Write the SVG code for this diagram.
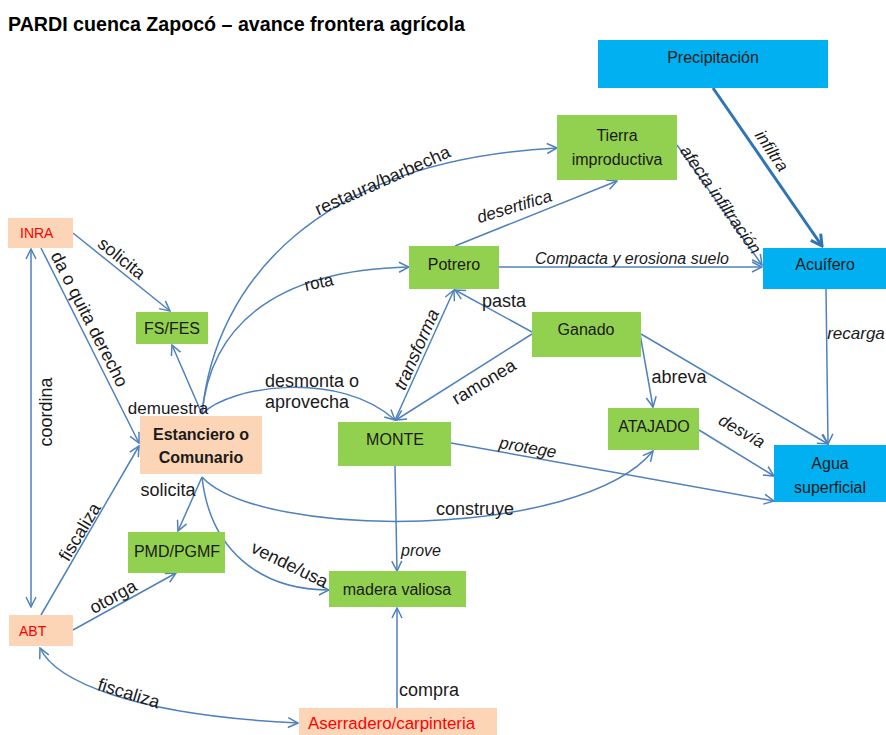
<svg xmlns="http://www.w3.org/2000/svg" width="886" height="735" viewBox="0 0 886 735">
  <defs>
    <style>
      .box-g { fill: #92D050; }
      .box-o { fill: #FBD5B5; }
      .box-b { fill: #00B0F0; }
      .nt { font-family: "Liberation Sans", Arial, sans-serif; font-size: 16px; fill: #1a1a1a; text-anchor: middle; }
      .red { fill: #FF0000; text-anchor: start; font-size: 14px; }
      .red.wide { font-size: 16.9px; }
      .bold { font-weight: bold; }
      .lb { font-family: "Liberation Sans", Arial, sans-serif; font-size: 18px; fill: #1a1a1a; text-anchor: middle; }
      .s17 { font-size: 17px; }
      .s16 { font-size: 16px; }
      .it { font-style: italic; }
      .c { fill: none; stroke: #4F81BD; stroke-width: 1.5; marker-end: url(#arr); }
      .both { marker-start: url(#arr); }
      .thick { fill: none; stroke: #2E75B6; stroke-width: 3; marker-end: url(#arrT); }
    </style>
    <marker id="arr" viewBox="0 0 12 12" refX="11" refY="6" markerWidth="12" markerHeight="12" markerUnits="userSpaceOnUse" orient="auto-start-reverse">
      <path d="M1,1 L11,6 L1,11" fill="none" stroke="#4F81BD" stroke-width="1.5"/>
    </marker>
    <marker id="arrT" viewBox="0 0 14 14" refX="12" refY="7" markerWidth="14" markerHeight="14" markerUnits="userSpaceOnUse" orient="auto">
      <path d="M1,1 L12,7 L1,13" fill="none" stroke="#2E75B6" stroke-width="3"/>
    </marker>
  </defs>

  <rect width="886" height="735" fill="#ffffff"/>

  <!-- title -->
  <text x="8" y="31" font-family="Liberation Sans, Arial, sans-serif" font-size="21" font-weight="bold" fill="#000" textLength="457" lengthAdjust="spacingAndGlyphs">PARDI cuenca Zapocó – avance frontera agrícola</text>

  <!-- connectors -->
  <g id="connectors">
    <path class="c" d="M73,233 L170,311"/>
    <path class="c" d="M41,248 L139,443"/>
    <path class="c both" d="M31,249 L31,607"/>
    <path class="c" d="M41,615 L139,446"/>
    <path class="c" d="M73,630 L176,573"/>
    <path class="c both" d="M40,648 C55,680 130,715 298,723"/>
    <path class="c" d="M397,708 L397,608"/>
    <path class="c" d="M395,466 L397,571"/>
    <path class="c" d="M202,414 L172,345"/>
    <path class="c" d="M202,414 C215,280 320,160 557,148"/>
    <path class="c" d="M202,414 C210,330 270,270 409,267"/>
    <path class="c" d="M202,414 C230,385 340,370 395,420"/>
    <path class="c" d="M202,477 L178,531"/>
    <path class="c" d="M202,477 C210,550 260,590 329,590"/>
    <path class="c" d="M202,477 C260,540 580,540 653,451"/>
    <path class="c" d="M395,420 L454,290"/>
    <path class="c" d="M532,332 L455,290"/>
    <path class="c" d="M532,334 L396,420"/>
    <path class="c" d="M640,334 L653,407"/>
    <path class="c" d="M641,334 L828,444"/>
    <path class="c" d="M699,430 L774,476"/>
    <path class="c" d="M451,443 L774,501"/>
    <path class="c" d="M826,289 L828,444"/>
    <path class="c" d="M677,145 L762,265"/>
    <path class="c" d="M499,267 L762,267"/>
    <path class="c" d="M455,246 L617,181"/>
    <path class="thick" d="M713,88 L822,246"/>

    <!-- connector labels -->
    <text class="lb" transform="translate(118,263) rotate(39)">solicita</text>
    <text class="lb" transform="translate(84,322) rotate(63)">da o quita derecho</text>
    <text class="lb" transform="translate(52,412) rotate(-90)">coordina</text>
    <text class="lb" transform="translate(85,535) rotate(-59)">fiscaliza</text>
    <text class="lb" transform="translate(116,602) rotate(-29)">otorga</text>
    <text class="lb" transform="translate(127,699) rotate(17)">fiscaliza</text>
    <text class="lb" x="429" y="696">compra</text>
    <text class="lb it s16" x="421" y="556">prove</text>
    <text class="lb" transform="translate(287,570) rotate(26)">vende/usa</text>
    <text class="lb" x="168" y="496">solicita</text>
    <text class="lb s17" x="168" y="414">demuestra</text>
    <text class="lb" transform="translate(385,186) rotate(-24)">restaura/barbecha</text>
    <text class="lb s17" transform="translate(320,288) rotate(-12)">rota</text>
    <text class="lb it s17" transform="translate(516,212) rotate(-17)">desertifica</text>
    <text class="lb" x="265" y="387" style="text-anchor:start">desmonta o</text>
    <text class="lb" x="265" y="408" style="text-anchor:start">aprovecha</text>
    <text class="lb it s16" x="632" y="264">Compacta y erosiona suelo</text>
    <text class="lb" x="504" y="307">pasta</text>
    <text class="lb it" transform="translate(422,352) rotate(-66)">transforma</text>
    <text class="lb" transform="translate(487,387) rotate(-31)">ramonea</text>
    <text class="lb" x="679" y="383">abreva</text>
    <text class="lb it s17" transform="translate(527,453) rotate(10)">protege</text>
    <text class="lb" x="475" y="515">construye</text>
    <text class="lb it s17" transform="translate(739,436) rotate(30)">desvía</text>
    <text class="lb it s17" x="856" y="339">recarga</text>
    <text class="lb it s17" transform="translate(767,154) rotate(56)">infiltra</text>
    <text class="lb it s17" transform="translate(716,203) rotate(55)">afecta infiltración</text>
  </g>

  <!-- nodes -->
  <g id="precipitacion">
    <rect class="box-b" x="598" y="40" width="230" height="48"/>
    <text class="nt" x="713" y="63">Precipitación</text>
  </g>
  <g id="tierra-improductiva">
    <rect class="box-g" x="557" y="115" width="120" height="65"/>
    <text class="nt" x="617" y="141">Tierra</text>
    <text class="nt" x="617" y="165">improductiva</text>
  </g>
  <g id="acuifero">
    <rect class="box-b" x="763" y="248" width="123" height="41"/>
    <text class="nt" x="825" y="270">Acuífero</text>
  </g>
  <g id="inra">
    <rect class="box-o" x="8" y="218" width="65" height="30"/>
    <text class="nt red" x="20" y="238">INRA</text>
  </g>
  <g id="fs-fes">
    <rect class="box-g" x="136" y="312" width="72" height="32"/>
    <text class="nt" x="172" y="334">FS/FES</text>
  </g>
  <g id="potrero">
    <rect class="box-g" x="409" y="246" width="90" height="43"/>
    <text class="nt" x="454" y="270">Potrero</text>
  </g>
  <g id="ganado">
    <rect class="box-g" x="532" y="312" width="109" height="45"/>
    <text class="nt" x="586" y="335">Ganado</text>
  </g>
  <g id="monte">
    <rect class="box-g" x="338" y="422" width="113" height="44"/>
    <text class="nt" x="395" y="445">MONTE</text>
  </g>
  <g id="atajado">
    <rect class="box-g" x="608" y="408" width="91" height="42"/>
    <text class="nt" x="654" y="432">ATAJADO</text>
  </g>
  <g id="agua-superficial">
    <rect class="box-b" x="774" y="445" width="112" height="57"/>
    <text class="nt" x="830" y="469">Agua</text>
    <text class="nt" x="830" y="493">superficial</text>
  </g>
  <g id="estanciero">
    <rect class="box-o" x="140" y="416" width="122" height="58"/>
    <text class="nt bold" x="201" y="440">Estanciero o</text>
    <text class="nt bold" x="201" y="463">Comunario</text>
  </g>
  <g id="pmd-pgmf">
    <rect class="box-g" x="128" y="532" width="97" height="41"/>
    <text class="nt" x="177" y="557">PMD/PGMF</text>
  </g>
  <g id="madera-valiosa">
    <rect class="box-g" x="329" y="571" width="137" height="36"/>
    <text class="nt" x="397" y="595">madera valiosa</text>
  </g>
  <g id="abt">
    <rect class="box-o" x="9" y="615" width="64" height="31"/>
    <text class="nt red" x="19" y="636">ABT</text>
  </g>
  <g id="aserradero">
    <rect class="box-o" x="299" y="708" width="198" height="30"/>
    <text class="nt red wide" x="308" y="729">Aserradero/carpinteria</text>
  </g>
</svg>
